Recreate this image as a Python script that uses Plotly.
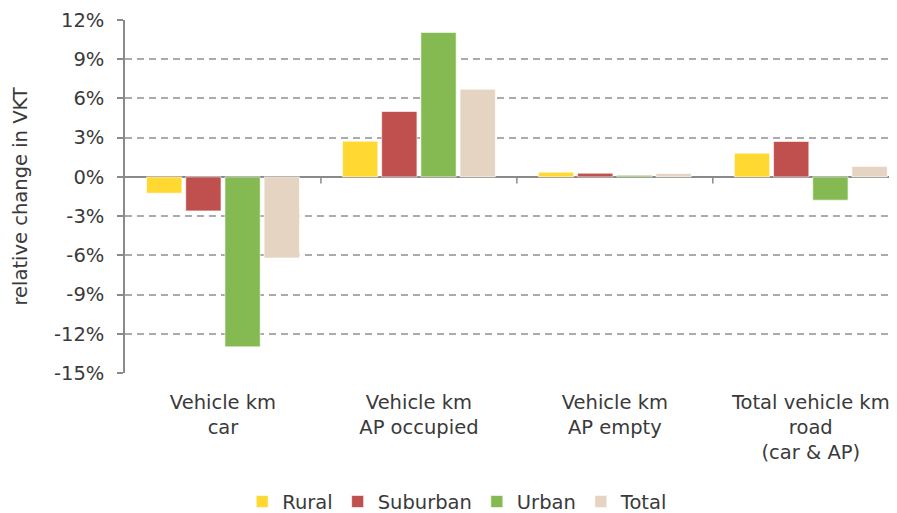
import plotly.graph_objects as go

categories = ["Vehicle km<br>car", "Vehicle km<br>AP occupied", "Vehicle km<br>AP empty",
              "Total vehicle km<br>road<br>(car & AP)"]
rural = [-1.25, 2.73, 0.36, 1.81]
suburban = [-2.6, 5.0, 0.28, 2.71]
urban = [-13.0, 11.05, 0.12, -1.78]
total = [-6.2, 6.7, 0.25, 0.8]
y_ticks = [12, 9, 6, 3, 0, -3, -6, -9, -12, -15]
y_ticktext = ["12%", "9%", "6%", "3%", "0%", "-3%", "-6%", "-9%", "-12%", "-15%"]

series = [("Rural", rural, "#FFD932"), ("Suburban", suburban, "#C0504D"),
          ("Urban", urban, "#85BA52"), ("Total", total, "#E4D4C1")]

FONT = "DejaVu Sans"
TXT = "#3a3a3a"

fig = go.Figure()
for name, vals, col in series:
    fig.add_trace(go.Bar(x=list(range(len(categories))), y=vals, name=name,
                         marker=dict(color=col, line=dict(color="rgba(255,255,255,0.6)", width=1))))

for b in [0.5, 1.5, 2.5]:
    fig.add_shape(type="line", xref="x", yref="y", x0=b, x1=b, y0=0, y1=-0.5,
                  line=dict(color="#8a8a8a", width=1.5))

fig.add_annotation(text="relative change in VKT", textangle=-90, xref="paper", yref="paper",
                   x=-0.136, y=0.5, xanchor="center", yanchor="middle", showarrow=False,
                   font=dict(size=19.5, color=TXT))

fig.update_layout(
    width=889, height=505,
    margin=dict(l=117, r=0, t=12, b=140, autoexpand=False),
    plot_bgcolor="white", paper_bgcolor="white",
    barmode="group", bargap=0.2, bargroupgap=0.1,
    font=dict(family=FONT, size=19, color=TXT),
    showlegend=True,
    legend=dict(orientation="h", x=0.431, xanchor="center", y=-0.365, yanchor="middle",
                font=dict(size=19.5, color=TXT), itemwidth=30, traceorder="normal"),
    xaxis=dict(tickmode="array", tickvals=list(range(len(categories))), ticktext=categories,
               range=[-0.5, 3.44], showgrid=False, zeroline=False, showline=False,
               ticks="", tickfont=dict(size=19.5, color=TXT), ticklabelstandoff=15,
               automargin=False),
    yaxis=dict(range=[-15, 12], tickmode="array", tickvals=y_ticks, ticktext=y_ticktext,
               showgrid=True, gridcolor="#ababab", gridwidth=1.5, griddash="7px,5px",
               zeroline=True, zerolinecolor="#8a8a8a", zerolinewidth=1.5,
               showline=True, linecolor="#8a8a8a", linewidth=1.5,
               ticks="outside", ticklen=6, tickcolor="#8a8a8a", tickwidth=1.5,
               ticklabelstandoff=9,
               tickfont=dict(size=19.5, color=TXT), automargin=False),
)

fig.write_html("out.html")
